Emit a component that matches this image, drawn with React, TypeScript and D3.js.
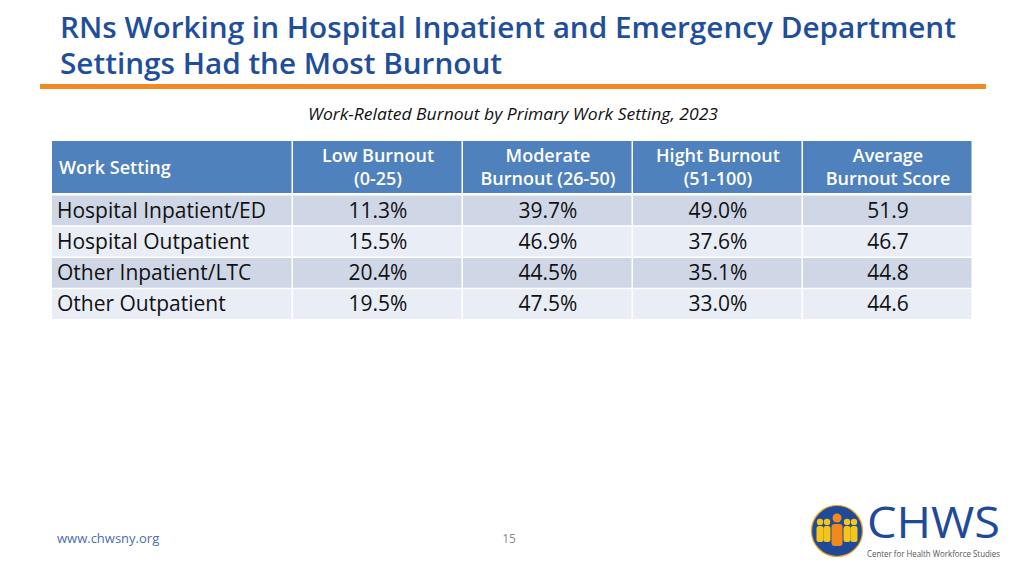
import React from "react";
import * as d3 from "d3";

const settings = ["Hospital Inpatient/ED", "Hospital Outpatient", "Other Inpatient/LTC", "Other Outpatient"];
const lowBurnout = [11.3, 15.5, 20.4, 19.5];
const moderateBurnout = [39.7, 46.9, 44.5, 47.5];
const highBurnout = [49.0, 37.6, 35.1, 33.0];
const averageScore = [51.9, 46.7, 44.8, 44.6];
const headers: string[][] = [
  ["Work Setting"],
  ["Low Burnout", "(0-25)"],
  ["Moderate", "Burnout (26-50)"],
  ["Hight Burnout", "(51-100)"],
  ["Average", "Burnout Score"],
];

const W = 1024;
const H = 576;
const FONT = "'Open Sans', 'Noto Sans', sans-serif";
const NARROW = "'Liberation Sans Narrow', 'Open Sans', sans-serif";
const BLUE = "#1f4e9a";

export default function App() {
  const tableLeft = 52;
  const tableRight = 972;
  const firstColW = 241;
  const colX = d3
    .scaleLinear()
    .domain([1, 5])
    .range([tableLeft + firstColW, tableRight + 1]);
  const rowY = d3
    .scaleBand<number>()
    .domain(d3.range(settings.length))
    .range([194.5, 319.5])
    .paddingInner(0);
  const headerTop = 141;
  const headerBottom = 193;

  const pct = d3.format(".1f");
  const rows = settings.map((s, i) => [
    s,
    pct(lowBurnout[i]) + "%",
    pct(moderateBurnout[i]) + "%",
    pct(highBurnout[i]) + "%",
    pct(averageScore[i]),
  ]);

  const colLeft = (c: number) => (c === 0 ? tableLeft : colX(c));
  const colRight = (c: number) => (c === 0 ? colX(1) : colX(c + 1));

  return (
    <svg
      width={W}
      height={H}
      viewBox={`0 0 ${W} ${H}`}
      style={{ position: "absolute", left: 0, top: 0, background: "#fff" }}
    >
      <rect x={0} y={0} width={W} height={H} fill="#fff" />
      {/* Title */}
      <text
        x={60}
        y={38}
        fontFamily={FONT}
        fontWeight={600}
        fontSize={28}
        fill={BLUE}
        textLength={896}
        lengthAdjust="spacingAndGlyphs"
      >
        RNs Working in Hospital Inpatient and Emergency Department
      </text>
      <text
        x={60}
        y={74}
        fontFamily={FONT}
        fontWeight={600}
        fontSize={28}
        fill={BLUE}
        textLength={442}
        lengthAdjust="spacingAndGlyphs"
      >
        Settings Had the Most Burnout
      </text>
      <rect x={40} y={84} width={946} height={5} fill="#f18a21" />

      {/* Subtitle */}
      <text
        x={513}
        y={120}
        textAnchor="middle"
        fontFamily={FONT}
        fontStyle="italic"
        fontSize={16}
        fill="#111"
        textLength={410}
        lengthAdjust="spacingAndGlyphs"
      >
        Work-Related Burnout by Primary Work Setting, 2023
      </text>

      {/* Header */}
      {headers.map((h, c) => {
        const x0 = colLeft(c);
        const x1 = colRight(c);
        const cx = (x0 + x1) / 2;
        return (
          <g key={"h" + c}>
            <rect x={x0} y={headerTop} width={x1 - x0 - 1.5} height={headerBottom - headerTop} fill="#4f81bd" />
            {h.length === 1 ? (
              <text
                x={x0 + 7}
                y={(headerTop + headerBottom) / 2 + 6.5}
                fontFamily={FONT}
                fontSize={18}
                fontWeight={600}
                fill="#fff"
              >
                {h[0]}
              </text>
            ) : (
              h.map((line, li) => (
                <text
                  key={li}
                  x={cx}
                  y={headerTop + 21 + li * 23}
                  textAnchor="middle"
                  fontFamily={FONT}
                  fontSize={18}
                  fontWeight={600}
                  fill="#fff"
                >
                  {line}
                </text>
              ))
            )}
          </g>
        );
      })}

      {/* Body */}
      {rows.map((r, i) => {
        const y0 = rowY(i)!;
        const bh = rowY.bandwidth();
        return (
          <g key={"r" + i}>
            {r.map((cell, c) => {
              const x0 = colLeft(c);
              const x1 = colRight(c);
              return (
                <g key={c}>
                  <rect
                    x={x0}
                    y={y0 + 1}
                    width={x1 - x0 - 1.5}
                    height={bh - 1.5}
                    fill={i % 2 === 0 ? "#cfd7e7" : "#e9edf5"}
                  />
                  <text
                    x={c === 0 ? x0 + 5 : (x0 + x1) / 2}
                    y={y0 + bh / 2 + 7.5}
                    textAnchor={c === 0 ? "start" : "middle"}
                    fontFamily={FONT}
                    fontSize={21}
                    fill="#111"
                  >
                    {cell}
                  </text>
                </g>
              );
            })}
          </g>
        );
      })}

      {/* Footer */}
      <text x={57} y={543} fontFamily={FONT} fontSize={13} fill="#4a6db3">
        www.chwsny.org
      </text>
      <text x={509} y={543} textAnchor="middle" fontFamily={FONT} fontSize={12} fill="#8a8a8a">
        15
      </text>

      {/* Logo */}
      <g>
        <circle cx={837} cy={531} r={25.5} fill="#1f4a9a" />
        <circle cx={837} cy={531} r={25.5} fill="none" stroke="#f4a11d" strokeWidth={1.2} />
        {[-17, -10, 10, 17].map((dx, k) => (
          <g key={k} fill="#f5c518">
            <circle cx={837 + dx} cy={522} r={3.2} />
            <rect x={837 + dx - 3.5} y={526} width={7} height={16} rx={2.5} />
          </g>
        ))}
        <g fill="#f08a1c">
          <circle cx={837} cy={518} r={4.5} />
          <rect x={831.5} y={524} width={11} height={22} rx={3} />
        </g>
        <text x={867} y={538} fontFamily={FONT} fontSize={43} fontWeight={400} fill="#1f4a9a" textLength={133} lengthAdjust="spacingAndGlyphs">
          CHWS
        </text>
        <text x={867} y={557} fontFamily={NARROW} fontSize={9.5} fill="#555" textLength={133} lengthAdjust="spacingAndGlyphs">
          Center for Health Workforce Studies
        </text>
      </g>
    </svg>
  );
}
